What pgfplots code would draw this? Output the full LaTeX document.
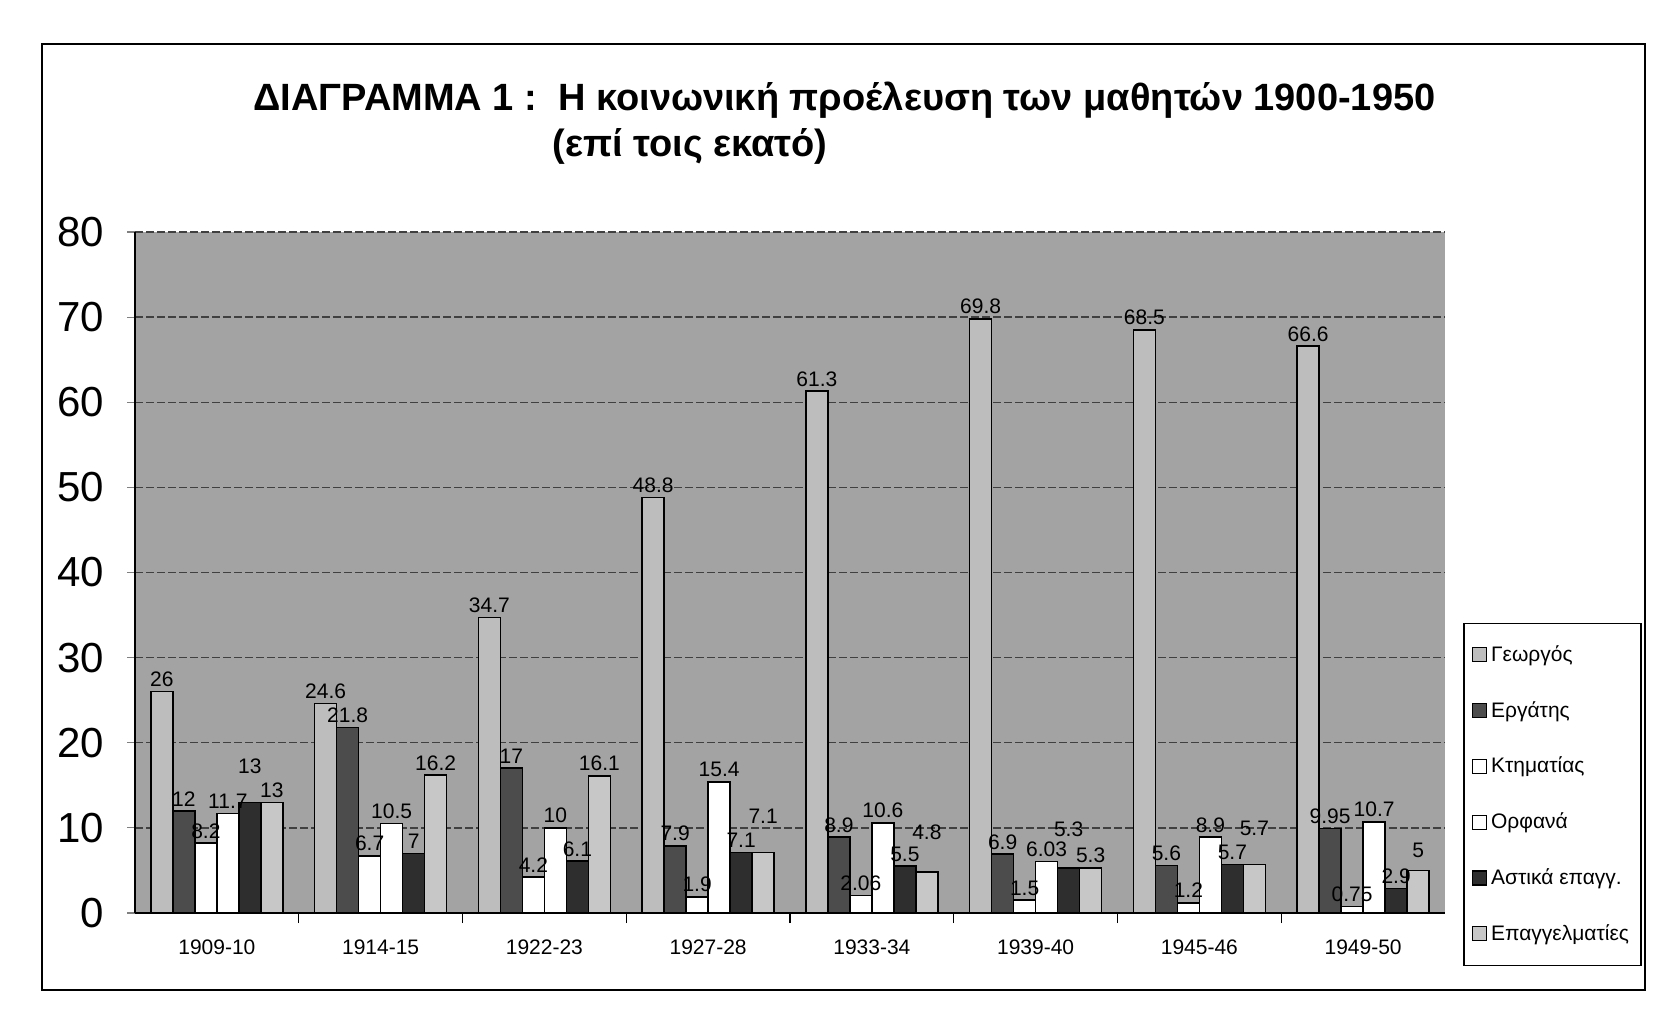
\documentclass[border=0pt]{standalone}
\usepackage{pgfplots}
\pgfplotsset{compat=1.18}
\usepackage{pgfplotstable}
\usepackage{fontspec}
\setmainfont{Liberation Sans}
\definecolor{bgc}{gray}{0.64}
\definecolor{cG}{gray}{0.74}
\definecolor{cE}{gray}{0.30}
\definecolor{cK}{gray}{1.0}
\definecolor{cO}{gray}{1.0}
\definecolor{cA}{gray}{0.18}
\definecolor{cP}{gray}{0.78}
\pgfplotstableread{
x G E K O A P dA dP
0 26 12 8.2 11.7 13 13 12 0
1 24.6 21.8 6.7 10.5 7 16.2 0 0
2 34.7 17 4.2 10 6.1 16.1 0 0
3 48.8 7.9 1.9 15.4 7.1 7.1 0 12
4 61.3 8.9 2.06 10.6 5.5 4.8 0 14
5 69.8 6.9 1.5 6.03 5.3 5.3 13 0
6 68.5 5.6 1.2 8.9 5.7 5.7 0 12
7 66.6 9.95 0.75 10.7 2.9 5 0 4
}\data
\begin{document}
\begin{tikzpicture}
\path[use as bounding box, fill=white] (0,0) rectangle (828bp,509bp);
\draw[line width=1bp] (21bp,14bp) rectangle (822.5bp,487bp);
\node[anchor=west, font=\bfseries\fontsize{19bp}{22bp}\selectfont, inner sep=0pt] at (126.5bp,459bp) {ΔΙΑΓΡΑΜΜΑ 1 :\ \ Η κοινωνική προέλευση των μαθητών 1900-1950};
\node[anchor=west, font=\bfseries\fontsize{19bp}{22bp}\selectfont, inner sep=0pt] at (276bp,436bp) {(επί τοις εκατό)};
\begin{axis}[
  at={(67.5bp,52.5bp)}, anchor=south west,
  scale only axis, width=655bp, height=340.5bp,
  ybar=0pt, bar width=11bp,
  xmin=-0.5, xmax=7.5, ymin=0, ymax=80,
  axis background/.style={fill=bgc},
  axis x line*=bottom, axis y line*=left,
  axis line style={-, line width=0.8bp},
  xtick={0,...,7},
  xticklabels={1909-10,1914-15,1922-23,1927-28,1933-34,1939-40,1945-46,1949-50},
  x tick style={draw=none},
  extra x ticks={0.5,1.5,2.5,3.5,4.5,5.5,6.5},
  extra x tick labels={},
  extra x tick style={x tick style={draw=black, line width=0.6bp}, major tick length=5bp, tick align=outside, grid=none},
  xticklabel style={font=\fontsize{10.5bp}{12bp}\selectfont, yshift=-6bp},
  ytick={0,10,...,80},
  ymajorgrids, major grid style={black!75, dash pattern=on 4bp off 1.5bp, line width=0.7bp},
  y tick style={line width=0.6bp}, tick align=outside, major tick length=4bp,
  yticklabel style={font=\fontsize{21bp}{24bp}\selectfont, xshift=-8bp},
  /pgf/number format/assume math mode=true,
  nodes near coords,
  every node near coord/.append style={font=\fontsize{10.5bp}{12bp}\selectfont, black, inner sep=2bp},
  legend cell align=left,
  legend style={at={(axis description cs:1.014,0.426)}, anchor=north west,
    draw=black, line width=0.6bp, font=\fontsize{10.5bp}{12bp}\selectfont,
    row sep=14.5bp, inner xsep=4bp, inner ysep=9bp},
  legend image code/.code={\draw[#1, line width=0.6bp] (0bp,-3.5bp) rectangle (7bp,3.5bp);},
  every axis plot/.append style={draw=black, line width=0.8bp},
]
\addplot[fill=cG] table[x=x,y=G]{\data};
\addplot[fill=cE] table[x=x,y=E]{\data};
\addplot[fill=cK] table[x=x,y=K]{\data};
\addplot[fill=cO] table[x=x,y=O]{\data};
\addplot[fill=cA, visualization depends on={\thisrow{dA}\as\dyA},
  every node near coord/.append style={yshift=\dyA bp}] table[x=x,y=A]{\data};
\addplot[fill=cP, visualization depends on={\thisrow{dP}\as\dyP},
  every node near coord/.append style={yshift=\dyP bp}] table[x=x,y=P]{\data};
\legend{Γεωργός,Εργάτης,Κτηματίας,Ορφανά,Αστικά επαγγ.,Επαγγελματίες}
\end{axis}
\end{tikzpicture}
\end{document}
